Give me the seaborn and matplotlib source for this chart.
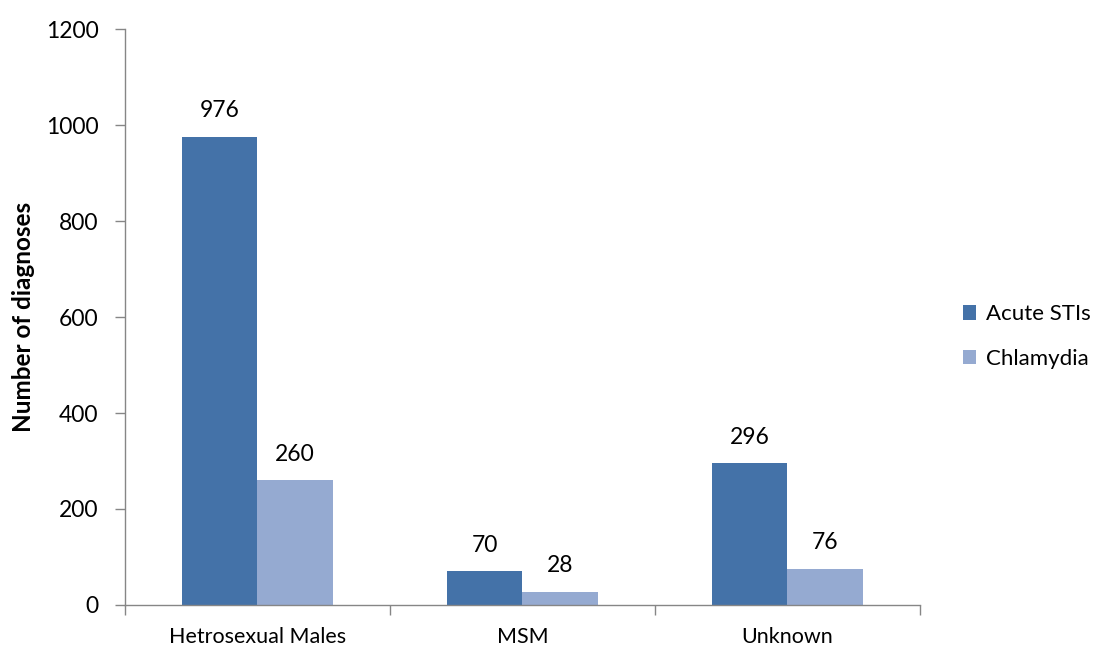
import matplotlib
matplotlib.use("Agg")
import matplotlib.pyplot as plt
import seaborn as sns
import pandas as pd
from matplotlib.ticker import FixedLocator
from matplotlib.patches import Patch

groups = ["Hetrosexual Males", "MSM", "Unknown"]
series = ["Acute STIs", "Chlamydia"]
acute_stis = [976, 70, 296]
chlamydia = [260, 28, 76]
y_ticks = [0, 200, 400, 600, 800, 1000, 1200]

df = pd.DataFrame({
    "group": groups * 2,
    "series": [series[0]] * 3 + [series[1]] * 3,
    "value": acute_stis + chlamydia,
})

sns.set_style("white")
plt.rcParams["font.family"] = ["Lato", "DejaVu Sans"]
plt.rcParams["text.color"] = "black"

colors = ["#4472A8", "#95AAD1"]
axis_color = "#868686"

fig = plt.figure(figsize=(10.99, 6.49), dpi=100)
ax = fig.add_axes([0.1137, 0.0678, 0.7234, 0.8875])

sns.barplot(data=df, x="group", y="value", hue="series", palette=colors,
            width=0.57, gap=0, saturation=1, ax=ax, legend=False,
            edgecolor="none")

for cont in ax.containers:
    ax.bar_label(cont, fmt="%d", padding=11, fontsize=16.5, color="black")

ax.set_ylim(0, 1200)
ax.set_xlim(-0.5, 2.5)
ax.set_yticks(y_ticks)
ax.set_yticklabels([str(t) for t in y_ticks], fontsize=16.5)
ax.tick_params(axis="y", length=7, width=1, color=axis_color, pad=12,
               left=True, labelcolor="black")
ax.tick_params(axis="x", which="major", length=0, pad=16, labelsize=15.5,
               labelcolor="black")
ax.xaxis.set_minor_locator(FixedLocator([-0.5, 0.5, 1.5, 2.5]))
ax.tick_params(axis="x", which="minor", length=7, width=1, color=axis_color,
               bottom=True)

ax.set_xlabel("")
ax.set_ylabel("Number of diagnoses", fontsize=17.5, fontweight="bold",
              labelpad=8, color="black")

for side in ["top", "right"]:
    ax.spines[side].set_visible(False)
for side in ["left", "bottom"]:
    ax.spines[side].set_color(axis_color)
    ax.spines[side].set_linewidth(1)

handles = [Patch(facecolor=c, edgecolor="none") for c in colors]
fig.legend(handles, series, loc="center left", bbox_to_anchor=(0.858, 0.4815),
           frameon=False, fontsize=16, handlelength=0.6, handleheight=0.6,
           handletextpad=0.42, labelspacing=1.1, labelcolor="black")

fig.savefig("out.png", dpi=100)
